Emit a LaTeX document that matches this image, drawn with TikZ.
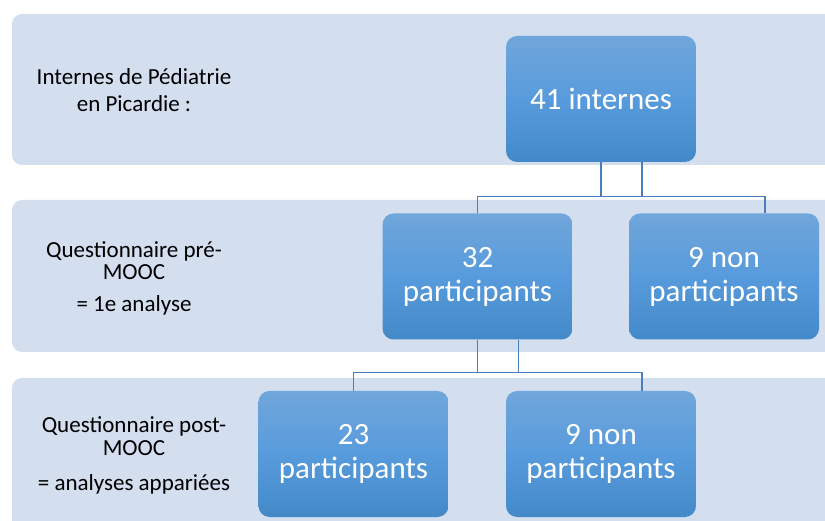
\documentclass[tikz,border=0pt]{standalone}
\usepackage{fontspec}
\setmainfont{Carlito}
\usepackage{xcolor}
\definecolor{band_blue}{RGB}{211,222,239}
\definecolor{box_top}{RGB}{112,166,219}
\definecolor{box_mid}{RGB}{88,155,220}
\definecolor{box_bottom}{RGB}{67,137,200}
\definecolor{link_blue}{RGB}{74,126,187}
\usepackage{tikz}

\begin{document}
\begin{tikzpicture}[x=1pt, y=-1pt,
  band/.style={fill=band_blue, rounded corners=10pt},
  stage/.style={rounded corners=11pt, top color=box_top, bottom color=box_bottom, middle color=box_mid,
    minimum width=190pt, minimum height=126pt, inner sep=0pt, text=white, align=center,
    font=\fontsize{31}{34}\selectfont},
  rowtext/.style={anchor=base, font=\fontsize{23}{25}\selectfont},
  link/.style={draw=link_blue, line width=1.1pt}]
\useasboundingbox (0, 0) rectangle (825, 521);

\fill[band] (12, 14) rectangle (845, 165);
\fill[band] (12, 200) rectangle (845, 352);
\fill[band] (12, 378) rectangle (845, 545);

\draw (134, 85) node[rowtext] (row1a) {Internes de Pédiatrie};
\draw (134, 112) node[rowtext] (row1b) {en Picardie :};

\draw (134, 258) node[rowtext] (row2a) {Questionnaire pré-};
\draw (134, 280) node[rowtext] (row2b) {MOOC};
\draw (134, 312) node[rowtext] (row2c) {= 1e analyse};

\draw (134, 432) node[rowtext] (row3a) {Questionnaire post-};
\draw (134, 455) node[rowtext] (row3b) {MOOC};
\draw (134, 490) node[rowtext] (row3c) {= analyses appariées};

\draw (601, 99) node[stage] (internes) {41 internes};
\draw (477.5, 276.5) node[stage] (part1) {32\\participants};
\draw (724, 276.5) node[stage] (nonpart1) {9 non\\participants};
\draw (353.5, 454) node[stage] (part2) {23\\participants};
\draw (601, 454) node[stage] (nonpart2) {9 non\\participants};

\draw[link] (internes.south) -- ++(0, 34) -| ([xshift=41pt]nonpart1.north);
\draw[link] ([xshift=41pt]internes.south) -- ++(0, 34) -| (part1.north);
\draw[link] (part1.south) -- ++(0, 33) -| ([xshift=41pt]nonpart2.north);
\draw[link] ([xshift=41pt]part1.south) -- ++(0, 33) -| (part2.north);

\end{tikzpicture}
\end{document}
